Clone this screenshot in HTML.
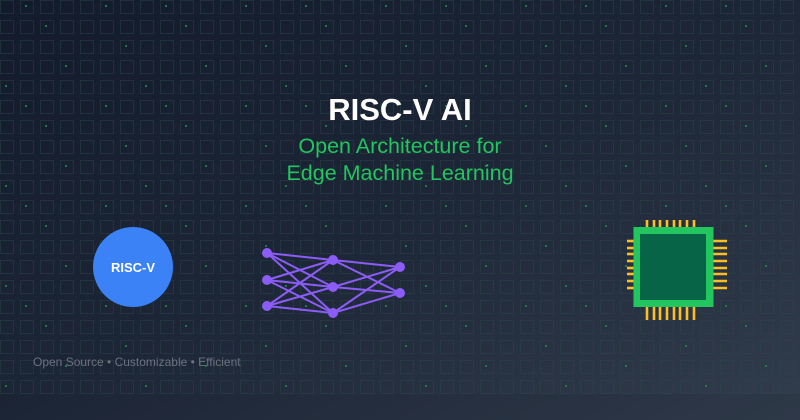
<!DOCTYPE html>
<html><head><meta charset="utf-8"><style>
html,body{margin:0;padding:0;width:800px;height:420px;overflow:hidden;background:#1a2233}
svg{display:block}
</style></head><body>
<svg width="800" height="420" viewBox="0 0 800 420" xmlns="http://www.w3.org/2000/svg">
<defs>
<linearGradient id="bg" x1="0" y1="0" x2="1" y2="1">
<stop offset="0" stop-color="#121a2c"/><stop offset="0.5" stop-color="#1d2637"/><stop offset="1" stop-color="#323d4d"/>
</linearGradient>
<pattern id="grid" width="20" height="20" patternUnits="userSpaceOnUse">
<rect x="0.5" y="0.5" width="13" height="13" fill="none" stroke="#2a4a44" stroke-opacity="0.45" stroke-width="1"/>
</pattern>
<pattern id="dots" width="140" height="100" patternUnits="userSpaceOnUse">
<g fill="#1f7a4a">
<rect x="25" y="5" width="2" height="2"/><rect x="105" y="5" width="2" height="2"/>
<rect x="45" y="25" width="2" height="2"/>
<rect x="125" y="45" width="2" height="2"/>
<rect x="65" y="65" width="2" height="2"/>
<rect x="5" y="85" width="2" height="2"/>
</g>
</pattern>
</defs>
<rect width="800" height="420" fill="url(#bg)"/>
<rect width="800" height="394" fill="url(#grid)"/>
<rect width="800" height="394" fill="url(#dots)"/>
<rect y="394" width="800" height="26" fill="#1a2232" opacity="0.15"/>
<text x="400" y="120" text-anchor="middle" font-family="Liberation Sans, sans-serif" font-weight="bold" font-size="31" fill="#ffffff">RISC-V AI</text>
<text x="400" y="153" text-anchor="middle" font-family="Liberation Sans, sans-serif" font-size="21.5" fill="#22c55e">Open Architecture for</text>
<text x="400" y="180" text-anchor="middle" font-family="Liberation Sans, sans-serif" font-size="21.5" fill="#22c55e">Edge Machine Learning</text>
<circle cx="133" cy="267" r="40" fill="#3b82f6"/>
<text x="133" y="272" text-anchor="middle" font-family="Liberation Sans, sans-serif" font-weight="bold" font-size="13" fill="#fff">RISC-V</text>
<g stroke="#8b5cf6" stroke-width="2">
<line x1="267" y1="253" x2="333" y2="260"/><line x1="267" y1="253" x2="333" y2="287"/><line x1="267" y1="253" x2="333" y2="313"/>
<line x1="267" y1="280" x2="333" y2="260"/><line x1="267" y1="280" x2="333" y2="287"/><line x1="267" y1="280" x2="333" y2="313"/>
<line x1="267" y1="306" x2="333" y2="260"/><line x1="267" y1="306" x2="333" y2="287"/><line x1="267" y1="306" x2="333" y2="313"/>
<line x1="333" y1="260" x2="400" y2="267"/><line x1="333" y1="260" x2="400" y2="293"/>
<line x1="333" y1="287" x2="400" y2="267"/><line x1="333" y1="287" x2="400" y2="293"/>
<line x1="333" y1="313" x2="400" y2="267"/><line x1="333" y1="313" x2="400" y2="293"/>
</g>
<g fill="#8b5cf6">
<circle cx="267" cy="253" r="5"/><circle cx="267" cy="280" r="5"/><circle cx="267" cy="306" r="5"/>
<circle cx="333" cy="260" r="5"/><circle cx="333" cy="287" r="5"/><circle cx="333" cy="313" r="5"/>
<circle cx="400" cy="267" r="5"/><circle cx="400" cy="293" r="5"/>
</g>
<g stroke="#fbbf24" stroke-width="2.6">
<line x1="647" y1="220" x2="647" y2="234"/><line x1="654" y1="220" x2="654" y2="234"/><line x1="660" y1="220" x2="660" y2="234"/><line x1="667" y1="220" x2="667" y2="234"/><line x1="674" y1="220" x2="674" y2="234"/><line x1="680" y1="220" x2="680" y2="234"/><line x1="687" y1="220" x2="687" y2="234"/><line x1="694" y1="220" x2="694" y2="234"/>
<line x1="647" y1="303" x2="647" y2="320"/><line x1="654" y1="303" x2="654" y2="320"/><line x1="660" y1="303" x2="660" y2="320"/><line x1="667" y1="303" x2="667" y2="320"/><line x1="674" y1="303" x2="674" y2="320"/><line x1="680" y1="303" x2="680" y2="320"/><line x1="687" y1="303" x2="687" y2="320"/><line x1="694" y1="303" x2="694" y2="320"/>
<line x1="627" y1="241" x2="640" y2="241"/><line x1="627" y1="248" x2="640" y2="248"/><line x1="627" y1="254" x2="640" y2="254"/><line x1="627" y1="261" x2="640" y2="261"/><line x1="627" y1="268" x2="640" y2="268"/><line x1="627" y1="274" x2="640" y2="274"/><line x1="627" y1="281" x2="640" y2="281"/><line x1="627" y1="288" x2="640" y2="288"/>
<line x1="706" y1="241" x2="727" y2="241"/><line x1="706" y1="248" x2="727" y2="248"/><line x1="706" y1="254" x2="727" y2="254"/><line x1="706" y1="261" x2="727" y2="261"/><line x1="706" y1="268" x2="727" y2="268"/><line x1="706" y1="274" x2="727" y2="274"/><line x1="706" y1="281" x2="727" y2="281"/><line x1="706" y1="288" x2="727" y2="288"/>
</g>
<rect x="633.5" y="227" width="80" height="80" fill="#22c55e"/>
<rect x="640" y="234" width="66" height="66" fill="#065f46" opacity="0.95"/>
<text x="33" y="366" font-family="Liberation Sans, sans-serif" font-size="12" fill="#6b7280">Open Source • Customizable • Efficient</text>
</svg>
</body></html>
